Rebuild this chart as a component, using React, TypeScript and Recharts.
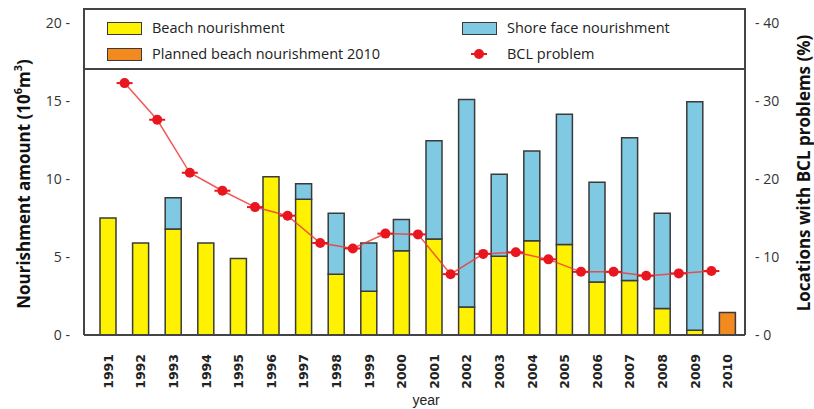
import React from 'react';
import { ComposedChart, Bar, Line, XAxis, YAxis, CartesianGrid, Label } from 'recharts';

const years = ['1991', '1992', '1993', '1994', '1995', '1996', '1997', '1998', '1999', '2000',
  '2001', '2002', '2003', '2004', '2005', '2006', '2007', '2008', '2009', '2010'];
const beach = [7.5, 5.9, 6.8, 5.9, 4.9, 10.15, 8.7, 3.9, 2.8, 5.4,
  6.15, 1.8, 5.05, 6.05, 5.8, 3.4, 3.5, 1.7, 0.3, null];
const shore = [null, null, 2.0, null, null, null, 1.0, 3.9, 3.1, 2.0,
  6.3, 13.3, 5.25, 5.75, 8.35, 6.4, 9.15, 6.1, 14.65, null];
const planned = [null, null, null, null, null, null, null, null, null, null,
  null, null, null, null, null, null, null, null, null, 1.45];
const bclProblem = [32.3, 27.6, 20.8, 18.5, 16.4, 15.3, 11.8, 11.1, 13.0, 12.9,
  7.8, 10.4, 10.6, 9.7, 8.1, 8.1, 7.6, 7.9, 8.2, null];

const leftTicks = [0, 5, 10, 15, 20];
const rightTicks = [0, 10, 20, 30, 40];
const gridValues = [5, 10, 15];

const data = years.map((year, i) => ({
  year,
  beach: beach[i],
  shore: shore[i],
  planned: planned[i],
  bcl: bclProblem[i],
}));

const YELLOW = '#FFF200';
const BLUE = '#7FC9E2';
const ORANGE = '#F38A20';
const RED = '#E8161F';
const EDGE = '#3a3a3a';
const AXIS = '#444';

const BclDot = (props: any) => {
  const { cx, cy, index } = props;
  if (cx == null || cy == null) return <g key={`d${index}`} />;
  return (
    <g key={`d${index}`}>
      <line x1={cx - 8} x2={cx + 8} y1={cy} y2={cy} stroke={RED} strokeWidth={2} />
      <circle cx={cx} cy={cy} r={5} fill={RED} />
    </g>
  );
};

const YearTick = (props: any) => {
  const { x, y, payload } = props;
  return (
    <text
      transform={`translate(${x},${y + 11}) rotate(-90)`}
      textAnchor="end"
      dominantBaseline="central"
      fontFamily="DejaVu Sans"
      fontWeight="bold"
      fontSize={12.5}
      fill="#222"
    >
      {payload.value}
    </text>
  );
};

const swatch = (color: string) => ({
  position: 'absolute' as const,
  width: 33,
  height: 11,
  background: color,
  border: `1.5px solid ${EDGE}`,
});

const legendText = {
  position: 'absolute' as const,
  fontFamily: 'Open Sans',
  fontSize: 14.5,
  color: '#222',
  lineHeight: '18px',
  whiteSpace: 'nowrap' as const,
};

export default function App() {
  return (
    <div style={{ position: 'absolute', left: 0, top: 0, width: 814, height: 409, background: '#fff' }}>
      <ComposedChart
        width={814}
        height={409}
        data={data}
        margin={{ top: 9, right: 0, bottom: 0, left: 0 }}
        barCategoryGap={0}
      >
        <CartesianGrid vertical={false} xAxisId="main" yAxisId="grid" stroke={AXIS} strokeWidth={1.8} />
        <XAxis
          xAxisId="main"
          dataKey="year"
          interval={0}
          padding={{ left: 8, right: 1 }}
          height={74}
          tickLine={false}
          axisLine={{ stroke: AXIS, strokeWidth: 2 }}
          tick={<YearTick />}
        >
          <Label
            content={({ viewBox }: any) => (
              <text
                x={viewBox.x + 342}
                y={viewBox.y + 70}
                textAnchor="middle"
                fontFamily="Liberation Sans"
                fontSize={14}
                fill="#222"
              >
                year
              </text>
            )}
          />
        </XAxis>
        <XAxis xAxisId="bcl" dataKey="year" hide height={0} padding={{ left: 24.3, right: -15.3 }} />
        <YAxis
          yAxisId="left"
          domain={[0, 20.9]}
          ticks={leftTicks}
          width={84}
          tickLine={false}
          tickSize={6}
          tickMargin={8}
          axisLine={{ stroke: AXIS, strokeWidth: 2 }}
          tickFormatter={(v: number) => `${v} -`}
          tick={{ fontFamily: 'Open Sans', fontSize: 14, fill: '#333' }}
        >
          <Label
            content={({ viewBox }: any) => (
              <text
                transform={`translate(${viewBox.x + 23},${viewBox.y + viewBox.height / 2 + 12}) rotate(-90)`}
                textAnchor="middle"
                dominantBaseline="central"
                fontFamily="Open Sans"
                fontWeight="bold"
                fontSize={17}
                fill="#111"
              >
                Nourishment amount (10<tspan fontSize={11} dy={-6}>6</tspan>
                <tspan dy={6}>m</tspan>
                <tspan fontSize={11} dy={-6}>3</tspan>
                <tspan dy={6}>)</tspan>
              </text>
            )}
          />
        </YAxis>
        <YAxis
          yAxisId="right"
          orientation="right"
          domain={[0, 41.8]}
          ticks={rightTicks}
          width={69}
          tickLine={false}
          tickSize={6}
          tickMargin={4}
          axisLine={{ stroke: AXIS, strokeWidth: 2 }}
          tickFormatter={(v: number) => `- ${v}`}
          tick={{ fontFamily: 'Open Sans', fontSize: 14, fill: '#333' }}
        >
          <Label
            content={({ viewBox }: any) => (
              <text
                transform={`translate(${viewBox.x + 58},${viewBox.y + viewBox.height / 2 + 1}) rotate(-90)`}
                textAnchor="middle"
                dominantBaseline="central"
                fontFamily="Open Sans"
                fontWeight="bold"
                fontSize={17}
                fill="#111"
              >
                Locations with BCL problems (%)
              </text>
            )}
          />
        </YAxis>
        <YAxis yAxisId="grid" hide width={0} domain={[0, 20.9]} ticks={gridValues} />
        <Bar xAxisId="main" yAxisId="left" dataKey="beach" stackId="a" barSize={16} fill={YELLOW} stroke={EDGE} strokeWidth={1.5} isAnimationActive={false} />
        <Bar xAxisId="main" yAxisId="left" dataKey="shore" stackId="a" barSize={16} fill={BLUE} stroke={EDGE} strokeWidth={1.5} isAnimationActive={false} />
        <Bar xAxisId="main" yAxisId="left" dataKey="planned" stackId="a" barSize={16} fill={ORANGE} stroke={EDGE} strokeWidth={1.5} isAnimationActive={false} />
        <Line
          xAxisId="bcl"
          yAxisId="right"
          dataKey="bcl"
          type="linear"
          stroke="#EE3A3A"
          strokeOpacity={0.85}
          strokeWidth={1.5}
          dot={BclDot}
          activeDot={false}
          isAnimationActive={false}
        />
      </ComposedChart>

      {/* legend box between the two axes */}
      <div
        style={{
          position: 'absolute',
          left: 83,
          top: 8,
          width: 663,
          height: 62,
          boxSizing: 'border-box',
          borderTop: `2px solid ${AXIS}`,
          borderBottom: `2px solid ${AXIS}`,
        }}
      >
        <div style={{ ...swatch(YELLOW), left: 24, top: 12 }} />
        <div style={{ ...legendText, left: 69, top: 9 }}>Beach nourishment</div>
        <div style={{ ...swatch(ORANGE), left: 24, top: 38 }} />
        <div style={{ ...legendText, left: 69, top: 35 }}>Planned beach nourishment 2010</div>
        <div style={{ ...swatch(BLUE), left: 379, top: 12 }} />
        <div style={{ ...legendText, left: 424, top: 9 }}>Shore face nourishment</div>
        <svg style={{ position: 'absolute', left: 385, top: 37 }} width={22} height={14}>
          <line x1={3} x2={19} y1={7} y2={7} stroke={RED} strokeWidth={2} />
          <circle cx={11} cy={7} r={5} fill={RED} />
        </svg>
        <div style={{ ...legendText, left: 424, top: 35 }}>BCL problem</div>
      </div>
    </div>
  );
}
